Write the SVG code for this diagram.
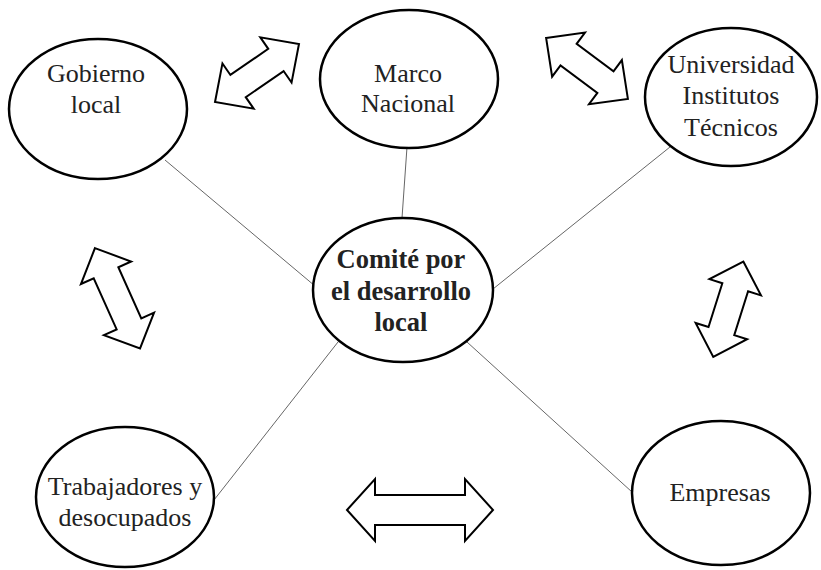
<svg xmlns="http://www.w3.org/2000/svg" width="821" height="570" viewBox="0 0 821 570">
<style>
.node ellipse{fill:#fff;stroke:#000;stroke-width:2.5}
.lbl{font-family:"Liberation Serif","Times New Roman",serif;font-size:26px;fill:#222;text-anchor:middle}
.bold{font-weight:bold;font-size:26.5px}
.conn line{stroke:#666;stroke-width:1}
.arr polygon{fill:#fff;stroke:#000;stroke-width:2;stroke-linejoin:miter}
</style>
<rect width="821" height="570" fill="#fff"/>
<g id="connectors" class="conn">
<line x1="165" y1="160" x2="315" y2="286"/>
<line x1="407" y1="147" x2="402" y2="218"/>
<line x1="670" y1="147" x2="493" y2="289"/>
<line x1="338" y1="342" x2="214" y2="500"/>
<line x1="467" y1="342" x2="632" y2="492"/>
</g>
<g id="arrows" class="arr">
<polygon transform="translate(257,73) rotate(-34.6)" points="-51,0 -23,-27.5 -23,-13.5 23,-13.5 23,-27.5 51,0 23,27.5 23,13.5 -23,13.5 -23,27.5"/>
<polygon transform="translate(587,68.4) rotate(36.7)" points="-51,0 -23,-27.5 -23,-13.5 23,-13.5 23,-27.5 51,0 23,27.5 23,13.5 -23,13.5 -23,27.5"/>
<polygon transform="translate(117.5,298.3) rotate(65.8)" points="-55,0 -28,-27.5 -28,-13.5 28,-13.5 28,-27.5 55,0 28,27.5 28,13.5 -28,13.5 -28,27.5"/>
<polygon transform="translate(728.3,309.2) rotate(107.5)" points="-50,0 -23,-27 -23,-13.5 23,-13.5 23,-27 50,0 23,27 23,13.5 -23,13.5 -23,27"/>
<polygon transform="translate(420,510)" points="-73,0 -45,-31 -45,-15 45,-15 45,-31 73,0 45,31 45,15 -45,15 -45,31"/>
</g>
<g id="gobierno" class="node">
<ellipse cx="98" cy="109" rx="89" ry="70"/>
<text class="lbl" x="96" y="82">Gobierno</text>
<text class="lbl" x="96" y="113">local</text>
</g>
<g id="marco" class="node">
<ellipse cx="409" cy="79" rx="89" ry="69"/>
<text class="lbl" x="408" y="82">Marco</text>
<text class="lbl" x="408" y="112">Nacional</text>
</g>
<g id="universidad" class="node">
<ellipse cx="731" cy="97" rx="86" ry="69"/>
<text class="lbl" x="731" y="73">Universidad</text>
<text class="lbl" x="731" y="104">Institutos</text>
<text class="lbl" x="731" y="136">Técnicos</text>
</g>
<g id="comite" class="node">
<ellipse cx="403" cy="290" rx="90" ry="72"/>
<text class="lbl bold" x="401" y="268">Comité por</text>
<text class="lbl bold" x="401" y="300">el desarrollo</text>
<text class="lbl bold" x="401" y="331">local</text>
</g>
<g id="trabajadores" class="node">
<ellipse cx="125" cy="497" rx="89" ry="70"/>
<text class="lbl" x="125" y="495">Trabajadores y</text>
<text class="lbl" x="125" y="526">desocupados</text>
</g>
<g id="empresas" class="node">
<ellipse cx="721" cy="493" rx="89" ry="72"/>
<text class="lbl" x="720" y="501">Empresas</text>
</g>
</svg>
